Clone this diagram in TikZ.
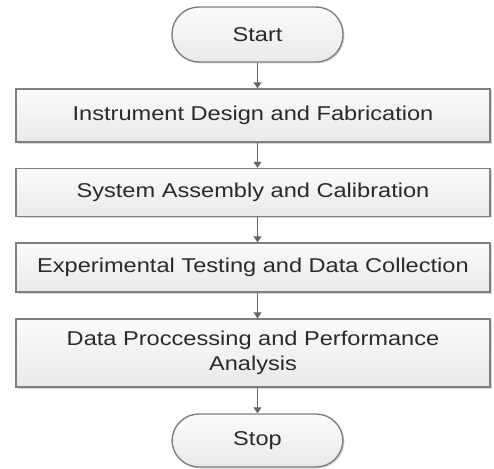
\documentclass[tikz,border=0pt]{standalone}
\usepackage{fontspec}
\setmainfont[FakeStretch=1.18]{Liberation Sans}
\usepackage{tikz}
\usetikzlibrary{arrows.meta, positioning, calc, shadows}
\usepackage{xcolor}
\definecolor{edgegray}{HTML}{7F7F7F}
\definecolor{linegray}{HTML}{666666}
\definecolor{textgray}{HTML}{2A2A2A}
\definecolor{boxtop}{HTML}{FBFBFB}
\definecolor{boxbot}{HTML}{E9E9E9}

\tikzset{
    stepbox/.style={draw=edgegray, line width=1.4pt, top color=boxtop, bottom color=boxbot,
        minimum width=474pt, text=textgray, align=center, inner sep=0pt,
        font=\fontsize{20}{25}\selectfont,
        drop shadow={shadow xshift=1.5pt, shadow yshift=-1.5pt, fill=black!30, opacity=.5}},
    termbox/.style={stepbox, rounded corners=27pt, minimum width=171pt},
    flowarrow/.style={draw=linegray, line width=1.1pt, -{Triangle[length=6pt, width=8pt]}}
}

\begin{document}
\begin{tikzpicture}[x=1pt, y=-1pt]
    \useasboundingbox (0,0) rectangle (494,468);

    % 1. Terminals and steps
    \node[termbox, minimum height=55pt] (start) at (257.5, 34.5) {Start};
    \node[stepbox, minimum height=53pt] (design) at (253, 115.5) {Instrument Design and Fabrication};
    \node[stepbox, minimum height=48pt] (assembly) at (253, 192.5) {System Assembly and Calibration};
    \node[stepbox, minimum height=49pt] (testing) at (253, 267.5) {Experimental Testing and Data Collection};
    \node[stepbox, minimum height=68pt] (analysis) at (253, 353) {Data Proccessing and Performance\\Analysis};
    \node[termbox, minimum height=53pt] (stop) at (257.5, 440.5) {Stop};

    % 2. Connectors
    \draw[flowarrow] (start.south) -- (start.south |- design.north);
    \draw[flowarrow] (start.south |- design.south) -- (start.south |- assembly.north);
    \draw[flowarrow] (start.south |- assembly.south) -- (start.south |- testing.north);
    \draw[flowarrow] (start.south |- testing.south) -- (start.south |- analysis.north);
    \draw[flowarrow] (start.south |- analysis.south) -- (stop.north);
\end{tikzpicture}
\end{document}
